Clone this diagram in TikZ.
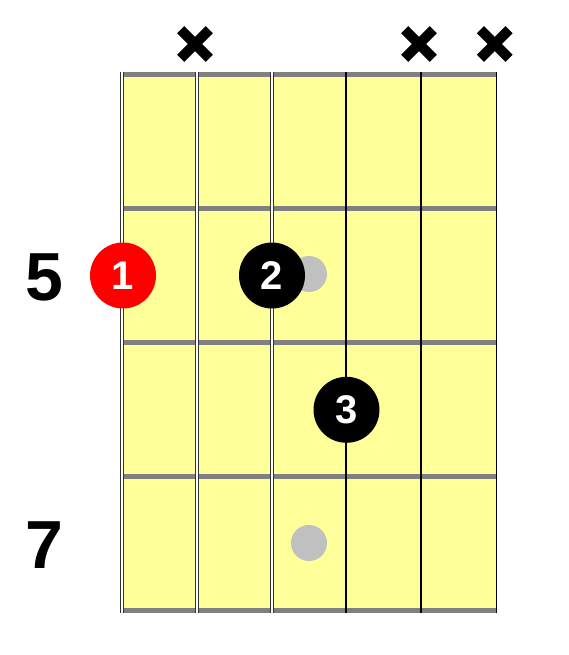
\documentclass[tikz,border=0pt]{standalone}
\usepackage{fontspec}
\setmainfont{Liberation Sans}
\definecolor{board}{HTML}{FFFF99}
\definecolor{fretgray}{HTML}{808080}
\definecolor{inlaygray}{HTML}{C0C0C0}
\begin{document}
\begin{tikzpicture}[x=1pt,y=-1pt,
  finger/.style={circle, minimum size=66pt, inner sep=0pt, text=white,
    font=\fontsize{40}{40}\selectfont\bfseries},
  inlay/.style={circle, minimum size=36pt, inner sep=0pt, fill=inlaygray},
  fretno/.style={font=\fontsize{68}{68}\selectfont\bfseries},
  fretline/.style={fretgray, line width=5.2pt},
  wound/.style={draw=black!80, line width=0.9pt, double=white, double distance=2.7pt},
  plain/.style={black, line width=1.2pt},
  mute/.style={line width=10pt}]
  \useasboundingbox (0,0) rectangle (569,655);
  % fretboard
  \fill [board] (122,72) rectangle (497,613);
  \foreach \y in {74.2, 208.4, 342.5, 476.6, 610.8}
    \draw [fretline] (122,\y) -- (497,\y);
  % strings
  \coordinate (s1t) at (122,72);  \coordinate (s1b) at (122,613);
  \coordinate (s2t) at (197,72);  \coordinate (s2b) at (197,613);
  \coordinate (s3t) at (272,72);  \coordinate (s3b) at (272,613);
  \coordinate (s4t) at (346,72);  \coordinate (s4b) at (346,613);
  \coordinate (s5t) at (421,72);  \coordinate (s5b) at (421,613);
  \coordinate (s6t) at (496.5,72);  \coordinate (s6b) at (496.5,613);
  \draw [wound] (s1t) -- (s1b);
  \draw [wound] (s2t) -- (s2b);
  \draw [wound] (s3t) -- (s3b);
  \draw [plain] (s4t) -- (s4b);
  \draw [plain] (s5t) -- (s5b);
  \draw [plain] (s6t) -- (s6b);
  % inlays
  \node [inlay] (i5) at (309,274) {};
  \node [inlay] (i7) at (309,543) {};
  % fingers
  \node [finger, fill=red] (f1) at (123,275.5) {1};
  \node [finger, fill=black] (f2) at (272,275.5) {2};
  \node [finger, fill=black] (f3) at (346.5,409.8) {3};
  % fret numbers
  \node [fretno] (n5) at (44,277) {5};
  \node [fretno] (n7) at (44,545) {7};
  % muted strings
  \foreach \x in {195, 419, 494.7} {
    \draw [mute] (\x-14.3,29.7) -- (\x+14.3,58.3);
    \draw [mute] (\x-14.3,58.3) -- (\x+14.3,29.7);
  }
\end{tikzpicture}
\end{document}
